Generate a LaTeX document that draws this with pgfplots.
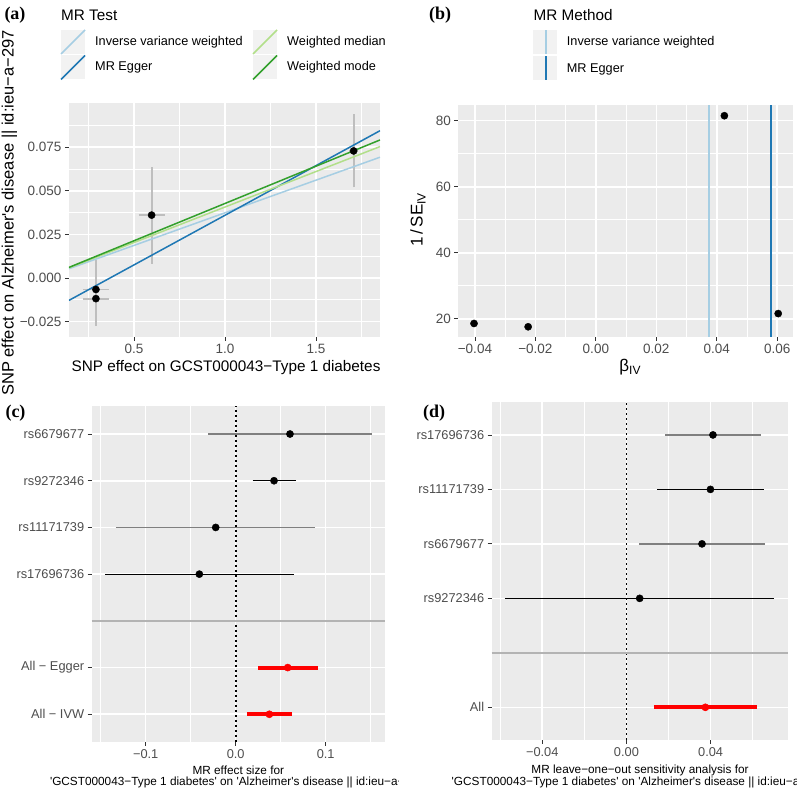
\documentclass[border=0pt]{standalone}
\usepackage{pgfplots}
\pgfplotsset{compat=1.18}
\usepackage{fontspec}
\setmainfont{Liberation Sans}
\newfontfamily\serifbf{Liberation Serif}

\definecolor{panel}{HTML}{EBEBEB}
\definecolor{keybg}{HTML}{F2F2F2}
\definecolor{ticklab}{HTML}{4D4D4D}
\definecolor{tickcol}{HTML}{333333}
\definecolor{ivw}{HTML}{A6CEE3}
\definecolor{egger}{HTML}{1F78B4}
\definecolor{wmed}{HTML}{B2DF8A}
\definecolor{wmode}{HTML}{33A02C}
\definecolor{errgrey}{HTML}{BEBEBE}
\definecolor{cigrey}{HTML}{7F7F7F}
\definecolor{sepgrey}{HTML}{B3B3B3}

\newcommand{\fs}[1]{\fontsize{#1}{#1}\selectfont}
\newcommand{\q}{\textquotesingle}

\pgfplotsset{
  gg/.style={
    scale only axis, anchor=south west,
    axis background/.style={fill=panel},
    axis line style={draw=none},
    grid=both,
    major grid style={white, line width=1.6pt},
    minor grid style={white, line width=0.8pt},
    tick align=outside,
    major tick length=4pt, minor tick length=0pt,
    tick style={tickcol, line width=0.8pt},
    xtick pos=left, ytick pos=left,
    scaled ticks=false,
    tick label style={font=\fs{13.5}, text=ticklab},
  },
  ci/.style={line width=1.4pt},
  eb/.style={errgrey, line width=1.8pt},
  dot/.style={only marks, mark=*, mark size=3.6pt, mark options={draw=black, fill=black}},
  dotted0/.style={black, line width=1.7pt, dash pattern=on 1.7pt off 3.3pt},
}

\begin{document}
\begin{tikzpicture}
\useasboundingbox (0pt,0pt) rectangle (797pt,791pt);

% ---------- (a) scatter plot
\begin{axis}[gg, at={(69pt,454pt)}, width=311pt, height=234pt,
  xmin=0.143, xmax=1.852, ymin=-0.0338, ymax=0.1004,
  xtick={0.5,1,1.5}, xticklabels={0.5,1.0,1.5},
  minor xtick={0.25,0.75,1.25,1.75},
  ytick={-0.025,0,0.025,0.05,0.075},
  yticklabels={−0.025,0.000,0.025,0.050,0.075},
  minor ytick={-0.0125,0.0125,0.0375,0.0625,0.0875}]
  % vertical error bars
  \addplot[eb] coordinates {(0.291,-0.0232) (0.291,0.0101)};
  \addplot[eb] coordinates {(0.291,-0.0275) (0.291,0.0039)};
  \addplot[eb] coordinates {(0.597,0.0083) (0.597,0.0639)};
  \addplot[eb] coordinates {(1.707,0.0520) (1.707,0.0938)};
  % horizontal error bars
  \addplot[eb] coordinates {(0.221,-0.00655) (0.361,-0.00655)};
  \addplot[eb] coordinates {(0.221,-0.0118) (0.361,-0.0118)};
  \addplot[eb] coordinates {(0.525,0.0361) (0.669,0.0361)};
  \addplot[eb] coordinates {(1.682,0.0729) (1.732,0.0729)};
  \addplot[dot] coordinates {(0.291,-0.00655) (0.291,-0.0118) (0.597,0.0361) (1.707,0.0729)};
  \addplot[ivw, line width=1.5pt] coordinates {(0.143,0.00535) (1.852,0.0693)};
  \addplot[egger, line width=1.5pt] coordinates {(0.143,-0.0128) (1.852,0.0845)};
  \addplot[wmed, line width=1.5pt] coordinates {(0.143,0.00585) (1.852,0.0754)};
  \addplot[wmode, line width=1.5pt] coordinates {(0.143,0.00612) (1.852,0.0792)};
\end{axis}

% ---------- (b) funnel plot
\begin{axis}[gg, at={(458.3pt,454.3pt)}, width=334.7pt, height=231.7pt,
  xmin=-0.0455, xmax=0.0652, ymin=14.6, ymax=84.75,
  xtick={-0.04,-0.02,0,0.02,0.04,0.06},
  xticklabels={−0.04,−0.02,0.00,0.02,0.04,0.06},
  minor xtick={-0.03,-0.01,0.01,0.03,0.05},
  ytick={20,40,60,80}, yticklabels={20,40,60,80},
  minor ytick={30,50,70}]
  \addplot[dot] coordinates {(-0.0403,18.6) (-0.0224,17.6) (0.0425,81.5) (0.0603,21.6)};
  \addplot[ivw, line width=1.8pt] coordinates {(0.0375,14.6) (0.0375,84.75)};
  \addplot[egger, line width=1.8pt] coordinates {(0.0579,14.6) (0.0579,84.75)};
\end{axis}

% ---------- (c) forest plot
\begin{axis}[gg, at={(91.7pt,49.3pt)}, width=293.3pt, height=335.7pt,
  xmin=-0.16, xmax=0.1659, ymin=0.413, ymax=7.6,
  xtick={-0.1,0,0.1}, xticklabels={−0.1,0.0,0.1},
  minor xtick={-0.15,-0.05,0.05,0.15},
  ytick={1,2,4,5,6,7},
  yticklabels={All − IVW,All − Egger,rs17696736,rs11171739,rs9272346,rs6679677},
  tick label style={font=\fs{12.8}}]
  \addplot[dotted0] coordinates {(0,0.413) (0,7.6)};
  \addplot[cigrey, ci] coordinates {(-0.0304,7) (0.1511,7)};
  \addplot[black, ci] coordinates {(0.0189,6) (0.0667,6)};
  \addplot[cigrey, ci] coordinates {(-0.1330,5) (0.0885,5)};
  \addplot[black, line width=1.1pt] coordinates {(-0.1452,4) (0.0648,4)};
  \addplot[red, line width=4pt] coordinates {(0.0251,2) (0.0911,2)};
  \addplot[red, line width=4pt] coordinates {(0.0129,1) (0.0622,1)};
  \addplot[dot] coordinates {(0.0603,7) (0.0426,6) (-0.0222,5) (-0.0404,4)};
  \addplot[dot, mark options={draw=red, fill=red}] coordinates {(0.0578,2) (0.0374,1)};
  \addplot[sepgrey, line width=1.4pt] coordinates {(-0.16,3) (0.1659,3)};
\end{axis}

% ---------- (d) leave-one-out plot
\begin{axis}[gg, at={(491.7pt,51pt)}, width=296.6pt, height=338.3pt,
  xmin=-0.064, xmax=0.0769, ymin=0.4, ymax=6.61,
  xtick={-0.04,0,0.04}, xticklabels={−0.04,0.00,0.04},
  minor xtick={-0.06,-0.02,0.02,0.06},
  ytick={1,3,4,5,6},
  yticklabels={All,rs9272346,rs6679677,rs11171739,rs17696736},
  tick label style={font=\fs{12.8}}]
  \addplot[dotted0] coordinates {(0,0.4) (0,6.61)};
  \addplot[cigrey, ci] coordinates {(0.0185,6) (0.0638,6)};
  \addplot[black, line width=1.1pt] coordinates {(0.0146,5) (0.0654,5)};
  \addplot[cigrey, ci] coordinates {(0.0060,4) (0.0660,4)};
  \addplot[black, line width=1.1pt] coordinates {(-0.0578,3) (0.0701,3)};
  \addplot[red, line width=4pt] coordinates {(0.0130,1) (0.0621,1)};
  \addplot[dot] coordinates {(0.0411,6) (0.0399,5) (0.0359,4) (0.0063,3)};
  \addplot[dot, mark options={draw=red, fill=red}] coordinates {(0.0375,1)};
  \addplot[sepgrey, line width=1.4pt] coordinates {(-0.064,2) (0.0769,2)};
\end{axis}

% ---------- panel letters
\begin{scope}[every node/.style={font=\serifbf\bfseries\fs{18}}]
  \node at (15pt,776pt) {(a)};
  \node at (440pt,776pt) {(b)};
  \node at (15.5pt,378pt) {(c)};
  \node at (434pt,378.3pt) {(d)};
\end{scope}

% ---------- legend (a)
\node[anchor=west, inner sep=0pt, font=\fs{15.3}] at (61pt,776pt) {MR Test};
\fill[keybg] (61pt,737pt) rectangle (85pt,761pt);
\fill[keybg] (61pt,711.5pt) rectangle (85pt,735.5pt);
\fill[keybg] (253pt,737pt) rectangle (277pt,761pt);
\fill[keybg] (253pt,711.5pt) rectangle (277pt,735.5pt);
\draw[ivw, line width=1.5pt] (61pt,737pt) -- (85pt,761pt);
\draw[egger, line width=1.5pt] (61pt,711.5pt) -- (85pt,735.5pt);
\draw[wmed, line width=1.5pt] (253pt,737pt) -- (277pt,761pt);
\draw[wmode, line width=1.5pt] (253pt,711.5pt) -- (277pt,735.5pt);
\begin{scope}[every node/.style={anchor=west, inner sep=0pt, font=\fs{12.7}}]
  \node at (95pt,748.3pt) {Inverse variance weighted};
  \node at (95pt,723.3pt) {MR Egger};
  \node at (287pt,748.3pt) {Weighted median};
  \node at (287pt,723.3pt) {Weighted mode};
\end{scope}

% ---------- legend (b)
\node[anchor=west, inner sep=0pt, font=\fs{15.3}] at (533.3pt,776pt) {MR Method};
\fill[keybg] (533.3pt,737pt) rectangle (557.3pt,761pt);
\fill[keybg] (533.3pt,711pt) rectangle (557.3pt,735.3pt);
\draw[ivw, line width=2pt] (545.5pt,737pt) -- (545.5pt,761pt);
\draw[egger, line width=2pt] (545.5pt,711pt) -- (545.5pt,735.3pt);
\begin{scope}[every node/.style={anchor=west, inner sep=0pt, font=\fs{12.7}}]
  \node at (566.7pt,748.3pt) {Inverse variance weighted};
  \node at (566.7pt,722pt) {MR Egger};
\end{scope}

% ---------- axis titles
\node[font=\fs{15.3}] at (226pt,423pt) {SNP effect on GCST000043−Type 1 diabetes};
\node[font=\fs{16.5}, rotate=90] at (9.5pt,578pt) {SNP effect on Alzheimer\q s disease || id:ieu−a−297};
\node[font=\fs{17}, rotate=90] at (418pt,571pt) {1\,/\,SE\raisebox{-3pt}{\fs{12}IV}};
\node[font=\fs{17}] at (630pt,424.3pt) {β\raisebox{-3pt}{\fs{12}IV}};

\node[font=\fs{11.8}] at (238.3pt,21pt) {MR effect size for};
\begin{scope}
  \clip (0pt,0pt) rectangle (398pt,40pt);
  \node[font=\fs{11.8}] at (238.3pt,8.3pt) {\q GCST000043−Type 1 diabetes\q{} on \q Alzheimer\q s disease || id:ieu−a−297\q};
\end{scope}
\node[font=\fs{11.8}] at (640pt,21pt) {MR leave−one−out sensitivity analysis for};
\node[font=\fs{11.8}] at (640pt,8.3pt) {\q GCST000043−Type 1 diabetes\q{} on \q Alzheimer\q s disease || id:ieu−a−297\q};
\end{tikzpicture}
\end{document}
